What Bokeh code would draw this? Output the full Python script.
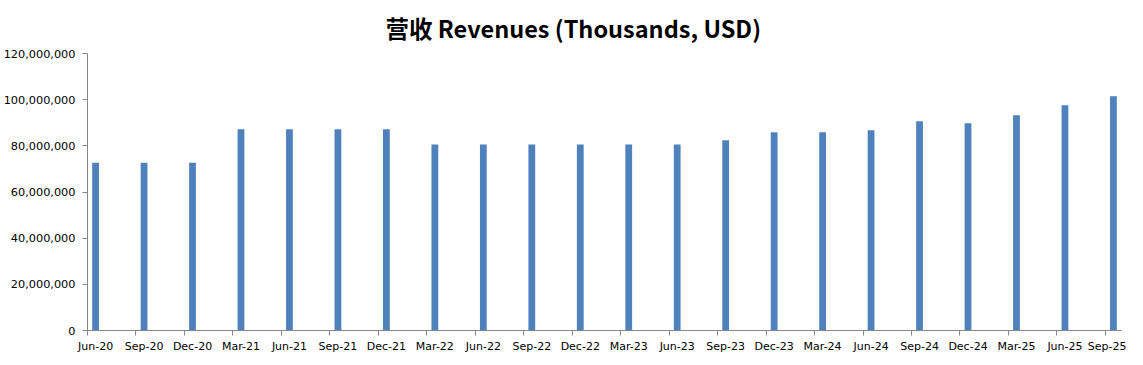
from bokeh.plotting import figure
from bokeh.models import FixedTicker, NumeralTickFormatter, Range1d, ColumnDataSource, Title
from bokeh.embed import file_html
from bokeh.resources import INLINE

quarters = ["Jun-20", "Sep-20", "Dec-20", "Mar-21", "Jun-21", "Sep-21", "Dec-21",
            "Mar-22", "Jun-22", "Sep-22", "Dec-22", "Mar-23", "Jun-23", "Sep-23",
            "Dec-23", "Mar-24", "Jun-24", "Sep-24", "Dec-24", "Mar-25", "Jun-25", "Sep-25"]
revenues = [72700000, 72700000, 72700000, 87200000, 87200000, 87200000, 87200000,
            80600000, 80600000, 80600000, 80600000, 80600000, 80600000, 82400000,
            85900000, 85900000, 86700000, 90600000, 89800000, 93300000, 97600000, 101500000]
y_ticks = [0, 20000000, 40000000, 60000000, 80000000, 100000000, 120000000]

# date axis with monthly base unit: each quarter label sits 3 months apart
month_index = [3 * i for i in range(len(quarters))]
centers = [m + 0.5 for m in month_index]

src = ColumnDataSource(dict(x=centers, top=revenues, label=quarters))

p = figure(frame_width=1034, frame_height=277, output_backend="svg", toolbar_location=None,
           x_range=Range1d(0, month_index[-1] + 1), y_range=Range1d(0, 120000000),
           min_border_left=0, min_border_right=5, min_border_top=0, min_border_bottom=0)

p.vbar(x="x", top="top", width=0.42, source=src, color="#4F81BD", line_color=None)

t = Title(text="营收 Revenues (Thousands, USD)", align="left", text_font="Noto Sans CJK SC",
          text_font_size="23.5px", text_font_style="bold", text_color="#000000",
          offset=298, standoff=17)
p.add_layout(t, "above")

p.xgrid.visible = False
p.ygrid.visible = False
p.outline_line_color = None

xt = FixedTicker(ticks=centers, minor_ticks=month_index)
p.xaxis.ticker = xt
p.xaxis.major_label_overrides = {c: q for c, q in zip(centers, quarters)}
p.xaxis.major_tick_line_color = None
p.xaxis.major_tick_out = 0
p.xaxis.major_tick_in = 0
p.xaxis.minor_tick_line_color = "#868686"
p.xaxis.minor_tick_in = 0
p.xaxis.minor_tick_out = 5
p.xaxis.axis_line_color = "#868686"
p.xaxis.major_label_text_font = "DejaVu Sans"
p.xaxis.major_label_text_font_size = "11px"
p.xaxis.major_label_text_color = "#000000"
p.xaxis.major_label_standoff = 4

p.yaxis.ticker = FixedTicker(ticks=y_ticks)
p.yaxis.formatter = NumeralTickFormatter(format="0,0")
p.yaxis.minor_tick_line_color = None
p.yaxis.major_tick_in = 0
p.yaxis.major_tick_out = 5
p.yaxis.major_tick_line_color = "#868686"
p.yaxis.axis_line_color = "#868686"
p.yaxis.major_label_text_font = "DejaVu Sans"
p.yaxis.major_label_text_font_size = "11.3px"
p.yaxis.major_label_text_color = "#000000"
p.yaxis.major_label_standoff = 7

open("out.html", "w").write(file_html(p, INLINE))
